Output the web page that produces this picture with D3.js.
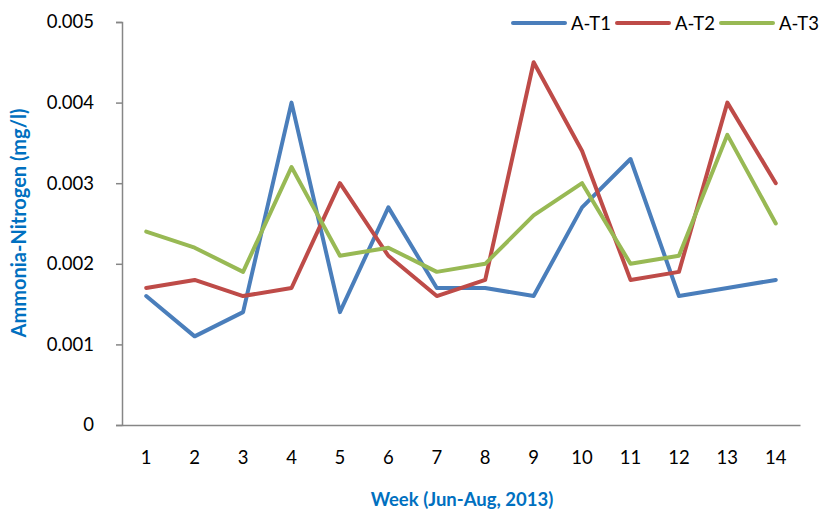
<!DOCTYPE html>
<html>
<head>
<meta charset="utf-8">
<script src="https://cdn.jsdelivr.net/npm/d3@7/dist/d3.min.js"></script>
<style>
  body { margin: 0; background: #fff; }
  svg { display: block; font-family: Lato, "Open Sans", sans-serif; }
</style>
</head>
<body>
<svg id="chart" width="820" height="511"></svg>
<script>
const weeks = [1, 2, 3, 4, 5, 6, 7, 8, 9, 10, 11, 12, 13, 14];
const seriesNames = ["A-T1", "A-T2", "A-T3"];
const at1 = [0.0016, 0.0011, 0.0014, 0.0040, 0.0014, 0.0027, 0.0017, 0.0017, 0.0016, 0.0027, 0.0033, 0.0016, 0.0017, 0.0018];
const at2 = [0.0017, 0.0018, 0.0016, 0.0017, 0.0030, 0.0021, 0.0016, 0.0018, 0.0045, 0.0034, 0.0018, 0.0019, 0.0040, 0.0030];
const at3 = [0.0024, 0.0022, 0.0019, 0.0032, 0.0021, 0.0022, 0.0019, 0.0020, 0.0026, 0.0030, 0.0020, 0.0021, 0.0036, 0.0025];
const yTicks = [0, 0.001, 0.002, 0.003, 0.004, 0.005];
const colors = ["#4A7EBB", "#BE4B48", "#98B954"];

const svg = d3.select("#chart");
const plot = { left: 122, right: 800, top: 22, bottom: 425 };
const labelFont = "Lato, sans-serif";

const x = d3.scaleBand().domain(weeks).range([plot.left, plot.right]);
const y = d3.scaleLinear().domain([0, 0.005]).range([plot.bottom, plot.top]);

// y axis
const yAxis = svg.append("g")
  .attr("transform", `translate(${plot.left},0)`)
  .call(d3.axisLeft(y).tickValues(yTicks).tickSize(6).tickPadding(22)
    .tickFormat(d => d === 0 ? "0" : d3.format(".3f")(d)));
yAxis.select(".domain").attr("stroke", "#868686").attr("stroke-width", 1.5);
yAxis.selectAll(".tick line").attr("stroke", "#868686").attr("stroke-width", 1.5);
yAxis.selectAll(".tick text").attr("font-size", 18.5).attr("fill", "#000")
  .attr("font-family", labelFont);

// x axis
const xAxis = svg.append("g")
  .attr("transform", `translate(0,${plot.bottom})`)
  .call(d3.axisBottom(x).tickSize(0).tickPadding(26));
xAxis.select(".domain").attr("stroke", "#868686").attr("stroke-width", 1.5);
xAxis.selectAll(".tick text").attr("font-size", 18.5).attr("fill", "#000")
  .attr("font-family", labelFont);

// axis titles
svg.append("text")
  .attr("transform", "translate(26,223) rotate(-90)")
  .attr("text-anchor", "middle")
  .attr("font-size", 20).attr("font-weight", "bold").attr("fill", "#0070C0")
  .text("Ammonia-Nitrogen (mg/l)");
svg.append("text")
  .attr("x", 462).attr("y", 506)
  .attr("text-anchor", "middle")
  .attr("font-size", 18.5).attr("font-weight", "bold").attr("fill", "#0070C0")
  .text("Week (Jun-Aug, 2013)");

// lines
const line = d3.line()
  .x((d, i) => x(weeks[i]) + x.bandwidth() / 2)
  .y(d => y(d));
[at1, at2, at3].forEach((vals, k) => {
  svg.append("path")
    .datum(vals)
    .attr("fill", "none")
    .attr("stroke", colors[k])
    .attr("stroke-width", 4)
    .attr("stroke-linejoin", "round")
    .attr("stroke-linecap", "round")
    .attr("d", line);
});

// legend
const legendX = [513, 617, 721];
seriesNames.forEach((name, k) => {
  const g = svg.append("g").attr("transform", `translate(${legendX[k]},23)`);
  g.append("line").attr("x1", 0).attr("x2", 52).attr("y1", 0).attr("y2", 0)
    .attr("stroke", colors[k]).attr("stroke-width", 4).attr("stroke-linecap", "round");
  g.append("text").attr("x", 58).attr("y", 7)
    .attr("font-size", 18.5).attr("fill", "#000").attr("font-family", labelFont)
    .text(name);
});
</script>
</body>
</html>
